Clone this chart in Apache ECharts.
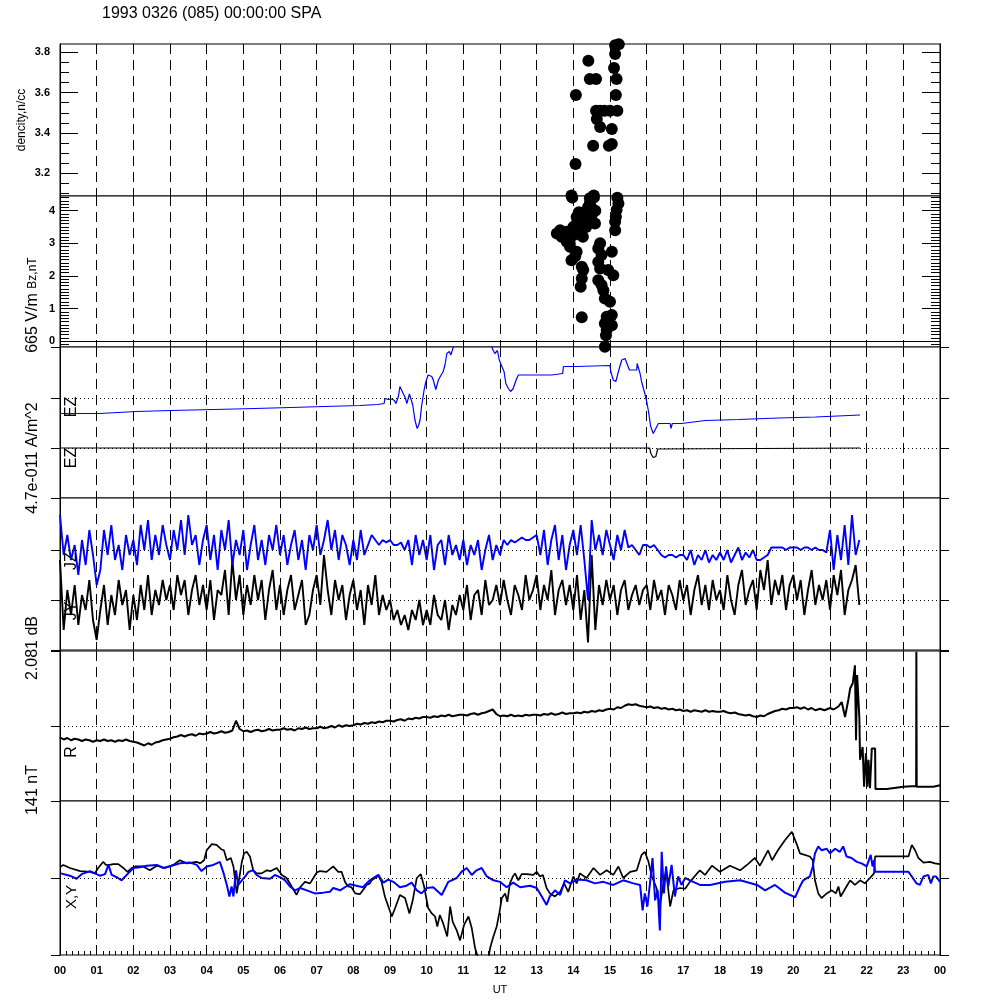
<!DOCTYPE html>
<html><head><meta charset="utf-8">
<script src="https://cdn.jsdelivr.net/npm/echarts@6/dist/echarts.min.js"></script>
<style>html,body{margin:0;padding:0;background:#fff}#c{width:1000px;height:1000px}</style>
</head><body><div id="c"></div>
<script>
// ---------------- data ----------------
const hourLabels = ['00','01','02','03','04','05','06','07','08','09','10','11','12','13','14','15','16','17','18','19','20','21','22','23','00'];
const densityTicks = [3.2,3.4,3.6,3.8];
const densityMinorTicks = [3.1,3.15,3.25,3.3,3.35,3.45,3.5,3.55,3.65,3.7,3.75];
const bzTicks = [0,1,2,3,4];
const ezTicks = [-1,0,1,2.02];
const jTicks = [-1,0,1,2.04];
const rTicks = [-1,0,1];
const xyTicks = [-1,0,1];

// density, n/cc  [UT hour, value]
const densityPts = [[13.95,3.09],[14.06,3.246],[14.07,3.588],[14.41,3.758],[14.45,3.668],[14.54,3.337],[14.56,3.09],[14.62,3.668],[14.62,3.51],[14.64,3.469],[14.73,3.43],[14.73,3.51],[14.85,3.51],[14.97,3.337],[15.0,3.51],[15.05,3.345],[15.05,3.42],[15.11,3.722],[15.14,3.792],[15.14,3.835],[15.16,3.588],[15.18,3.668],[15.2,3.51],[15.24,3.84]];

// Bz, nT  [UT hour, value]
const bzPts = [[15.23,4.22],[15.18,4.02],[15.16,3.81],[15.14,3.66],[15.14,3.40],[15.2,4.40],[14.45,4.38],[14.45,4.22],[14.5,4.07],[14.26,3.92],[14.5,3.87],[14.09,3.81],[14.36,3.71],[14.59,3.61],[14.09,3.61],[14.18,3.46],[13.64,3.40],[13.82,3.35],[13.68,3.20],[14.0,3.25],[14.26,3.20],[13.82,3.05],[13.91,2.89],[14.09,2.74],[13.95,2.48],[14.73,3.0],[14.68,2.84],[15.05,2.74],[14.77,2.64],[14.68,2.43],[14.73,2.23],[14.23,2.28],[14.27,2.18],[14.95,2.18],[15.09,2.02],[14.23,1.92],[14.68,1.87],[14.77,1.72],[14.82,1.56],[14.2,1.67],[14.86,1.31],[15.0,1.21],[14.23,0.73],[15.05,0.80],[14.91,0.75],[14.86,0.54],[15.05,0.49],[14.91,0.34],[14.89,0.18],[14.86,-0.17],[13.75,3.3],[13.86,3.15],[14.0,3.5],[14.3,3.8],[14.4,4.1],[14.15,3.95],[14.35,3.5],[14.6,4.0],[13.97,4.4],[14.56,4.4],[14.1,3.3],[13.9,3.0],[14.05,2.6],[13.55,3.3]];

// EZ (scaled, 665 V/m)  [UT hour, value]
const ezBlue = [[0,0.69],[1.08,0.69],[1.1,0.73],[2.08,0.73],[2.1,0.75],[3.02,0.75],[3.05,0.77],[4.2,0.77],[4.22,0.79],[5.3,0.79],[5.32,0.81],[6.3,0.81],[6.32,0.83],[7.2,0.83],[7.22,0.85],[8.18,0.85],[8.2,0.87],[8.66,0.87],[8.68,0.89],[8.84,0.89],[8.86,0.99],[8.95,0.97],[9.05,0.98],[9.12,0.95],[9.16,0.89],[9.23,1.03],[9.27,1.23],[9.32,1.25],[9.36,1.09],[9.42,1.0],[9.46,0.89],[9.53,1.08],[9.58,1.08],[9.62,0.86],[9.68,0.56],[9.74,0.39],[9.78,0.45],[9.82,0.56],[9.86,0.83],[9.93,1.16],[9.98,1.33],[10.04,1.46],[10.14,1.43],[10.18,1.36],[10.25,1.17],[10.32,1.36],[10.38,1.44],[10.45,1.53],[10.5,1.66],[10.55,1.89],[10.62,1.93],[10.66,1.86],[10.71,1.98],[10.76,2.1],[11.0,2.4],[11.4,2.5],[11.75,2.1],[11.8,1.97],[11.86,1.89],[11.93,1.95],[11.98,1.76],[12.05,1.63],[12.11,1.53],[12.16,1.29],[12.23,1.19],[12.29,1.13],[12.36,1.19],[12.44,1.36],[12.5,1.46],[13.41,1.46],[13.44,1.49],[13.71,1.49],[13.73,1.63],[14.1,1.63],[14.11,1.65],[15.0,1.65],[15.02,1.53],[15.09,1.36],[15.16,1.33],[15.23,1.53],[15.32,1.76],[15.41,1.79],[15.46,1.76],[15.53,1.56],[15.73,1.56],[15.74,1.69],[15.82,1.49],[15.86,1.33],[15.95,1.09],[16.0,0.93],[16.05,0.73],[16.11,0.43],[16.18,0.29],[16.25,0.39],[16.32,0.49],[16.64,0.49],[16.66,0.39],[16.7,0.49],[16.95,0.49],[17.0,0.53],[17.6,0.55],[17.62,0.57],[18.5,0.57],[18.52,0.6],[19.6,0.6],[19.62,0.62],[20.6,0.62],[20.62,0.65],[21.82,0.66]];
const ezBlack = [[0,0],[16.08,0],[16.12,-0.12],[16.18,-0.19],[16.25,-0.17],[16.3,-0.02],[16.32,0],[21.82,0]];

// JZ / JY (scaled), one value every 0.1 h from 00 UT
const jzBlue = [
1.7,0.9,1.3,0.8,1.1,0.5,1.2,0.7,1.4,0.9,
0.3,0.6,1.4,0.9,1.5,0.8,1.1,0.6,1.3,0.9,
1.2,0.7,1.5,1.0,1.6,0.8,1.3,0.9,1.5,1.1,
0.8,1.4,1.0,1.6,0.9,1.7,1.1,1.3,0.7,1.2,
1.5,0.8,1.3,0.6,1.4,1.0,1.6,0.7,1.2,0.9,
1.4,0.6,1.1,1.5,0.8,1.2,0.7,1.3,1.0,1.5,
0.9,1.3,0.7,1.1,1.4,0.8,1.2,0.6,1.3,1.0,
1.5,0.9,1.2,1.6,1.0,1.4,0.8,1.3,1.1,0.7,
1.2,0.8,1.4,0.9,1.1,1.3,1.2,1.1,1.2,1.15,
1.2,1.1,1.1,1.15,1.0,1.2,0.7,1.3,0.9,1.2,
0.8,1.3,0.6,1.1,1.2,0.7,1.3,0.9,1.1,0.8,
1.2,0.7,1.1,0.9,1.2,0.6,1.0,1.3,0.8,1.1,
0.9,1.2,1.1,1.2,1.15,1.2,1.25,1.2,1.2,1.25,
1.3,0.9,1.4,0.7,1.2,1.5,0.8,1.3,0.6,1.1,
1.4,0.9,1.5,0.8,0.0,1.6,1.0,1.3,0.9,1.4,
1.1,0.8,1.3,1.0,1.4,1.05,1.1,1.0,0.9,1.1,
1.1,1.05,1.1,1.0,0.9,0.85,0.9,0.9,0.85,0.9,
0.9,0.8,1.0,0.7,0.9,0.8,1.0,0.75,0.9,0.8,
0.95,0.8,1.0,0.75,0.9,1.05,0.8,0.95,0.85,1.0,
0.8,0.8,0.85,0.9,1.05,1.05,1.05,1.05,1.0,1.05,
1.05,1.05,1.0,1.05,1.05,1.0,1.05,1.0,1.0,0.95,
1.4,0.6,1.3,0.8,1.5,0.7,1.7,0.9,1.2];
const jyBlack = [
0.8,-0.6,0.2,-0.3,0.3,-0.5,0.1,-0.2,0.4,-0.4,
-0.8,-0.2,0.3,-0.5,0.1,-0.3,0.4,-0.1,0.2,-0.6,
0.1,-0.4,0.3,-0.2,0.5,-0.3,0.2,-0.1,0.4,0.0,
0.3,-0.2,0.5,0.1,0.4,-0.3,0.2,0.5,-0.1,0.3,
-0.2,0.4,-0.4,0.2,0.1,0.6,-0.3,0.8,0.0,0.5,
-0.3,0.3,-0.1,0.5,0.0,0.4,-0.4,0.2,0.6,-0.2,
0.3,-0.3,0.2,0.5,-0.2,0.1,0.4,-0.5,-0.3,0.2,
0.5,-0.1,0.9,0.2,-0.3,0.4,0.0,0.3,-0.4,0.1,
0.4,-0.2,0.2,-0.5,0.3,-0.1,0.5,-0.3,0.1,-0.2,
0.0,-0.4,-0.2,-0.5,-0.3,-0.6,-0.2,-0.4,0.0,-0.5,
-0.2,-0.5,0.1,-0.3,-0.4,0.0,-0.6,-0.1,-0.3,0.1,
-0.2,0.3,-0.4,0.1,0.2,-0.3,0.4,-0.1,0.0,0.3,
-0.1,0.4,0.0,-0.3,0.3,0.1,-0.2,0.5,0.0,0.2,
0.5,-0.2,0.3,0.0,0.6,-0.3,0.2,0.4,-0.1,0.3,
-0.2,0.5,-0.4,0.2,-0.85,0.9,-0.6,0.3,-0.1,0.4,
0.0,0.3,-0.3,0.2,0.4,-0.2,0.1,0.3,-0.1,0.2,
0.3,-0.2,0.4,0.0,0.2,-0.3,0.3,0.1,-0.2,0.4,
0.0,0.3,-0.3,0.2,0.5,-0.1,0.3,-0.2,0.4,0.0,
0.2,-0.2,0.5,0.0,-0.3,0.3,0.6,-0.1,0.2,0.4,
-0.2,0.6,0.2,0.8,-0.1,0.4,0.1,0.5,-0.2,0.3,
0.5,0.0,0.4,-0.3,0.2,0.6,-0.1,0.3,0.0,0.4,
-0.2,0.5,0.1,0.6,-0.3,0.2,0.4,0.7,-0.1];

// R (scaled, 141 nT), one value every 0.1 h from 00 UT up to 20.1 h
const rMain = [
-0.15,-0.18,-0.16,-0.19,-0.17,-0.18,-0.20,-0.18,-0.19,-0.21,
-0.19,-0.20,-0.18,-0.20,-0.19,-0.21,-0.19,-0.20,-0.18,-0.20,
-0.21,-0.22,-0.24,-0.26,-0.23,-0.25,-0.22,-0.21,-0.19,-0.18,
-0.17,-0.15,-0.14,-0.12,-0.14,-0.12,-0.11,-0.13,-0.10,-0.11,
-0.10,-0.08,-0.10,-0.09,-0.07,-0.09,-0.08,-0.06,0.07,-0.04,
-0.07,-0.06,-0.08,-0.06,-0.05,-0.07,-0.06,-0.04,-0.06,-0.05,
-0.05,-0.03,-0.05,-0.04,-0.06,-0.03,-0.04,-0.02,-0.04,-0.03,
-0.03,-0.01,-0.03,-0.02,0.00,-0.02,0.01,-0.01,0.01,0.00,
0.01,0.03,0.02,0.04,0.03,0.05,0.04,0.06,0.05,0.07,
0.07,0.06,0.08,0.09,0.07,0.10,0.09,0.11,0.10,0.12,
0.12,0.11,0.13,0.12,0.14,0.13,0.15,0.13,0.14,0.15,
0.15,0.14,0.16,0.17,0.15,0.17,0.18,0.20,0.22,0.16,
0.13,0.14,0.13,0.15,0.13,0.14,0.13,0.15,0.14,0.15,
0.15,0.14,0.16,0.15,0.17,0.15,0.16,0.18,0.16,0.17,
0.17,0.18,0.17,0.19,0.18,0.20,0.19,0.21,0.20,0.22,
0.23,0.22,0.25,0.24,0.27,0.29,0.28,0.29,0.27,0.26,
0.25,0.26,0.24,0.25,0.23,0.24,0.22,0.23,0.21,0.22,
0.20,0.21,0.19,0.21,0.20,0.19,0.21,0.19,0.20,0.19,
0.19,0.20,0.18,0.17,0.18,0.16,0.15,0.14,0.15,0.13,
0.12,0.14,0.13,0.16,0.18,0.20,0.21,0.23,0.22,0.24,
0.24,0.25];
const rTail = [[20.2,0.23],[20.3,0.25],[20.4,0.22],[20.5,0.24],[20.6,0.21],[20.73,0.23],[20.85,0.21],[21.0,0.24],[21.1,0.22],[21.23,0.26],[21.32,0.32],[21.41,0.12],[21.5,0.35],[21.55,0.50],[21.62,0.57],[21.68,0.81],[21.71,-0.19],[21.74,0.68],[21.8,0.12],[21.82,-0.45],[21.89,-0.28],[21.93,-0.81],[21.98,-0.36],[22.02,-0.81],[22.05,-0.45],[22.09,-0.83],[22.14,-0.30],[22.23,-0.30],[22.24,-0.84],[22.55,-0.84],[23.0,-0.81],[23.35,-0.80],[23.355,0.99],[23.365,-0.81],[23.82,-0.81],[24.0,-0.79]];

// X, Y (scaled)  [UT hour, value]
const xBlack = [[0.02,0.15],[0.09,0.17],[0.27,0.13],[0.55,0.09],[0.82,0.08],[0.95,0.06],[1.04,0.13],[1.18,0.21],[1.25,0.17],[1.36,0.17],[1.45,0.18],[1.59,0.18],[1.73,0.13],[1.84,0.08],[1.96,0.13],[2.05,0.15],[2.27,0.15],[2.45,0.10],[2.64,0.16],[2.86,0.13],[3.09,0.17],[3.27,0.23],[3.46,0.19],[3.73,0.21],[3.82,0.19],[3.93,0.23],[4.0,0.36],[4.14,0.44],[4.27,0.43],[4.41,0.37],[4.47,0.36],[4.55,0.23],[4.66,0.26],[4.73,0.15],[4.82,-0.20],[4.89,0.0],[4.96,0.21],[5.02,0.32],[5.09,0.34],[5.18,0.28],[5.27,0.10],[5.36,0.06],[5.5,0.06],[5.64,0.10],[5.75,0.09],[5.91,0.13],[6.05,0.04],[6.18,0.0],[6.32,-0.11],[6.45,-0.22],[6.55,-0.12],[6.68,-0.05],[6.82,-0.07],[6.91,0.0],[7.0,0.07],[7.09,0.09],[7.27,0.08],[7.45,0.15],[7.59,0.08],[7.68,0.08],[7.77,-0.05],[7.86,-0.11],[7.95,-0.12],[8.05,-0.20],[8.18,-0.21],[8.32,-0.12],[8.36,-0.09],[8.45,-0.07],[8.5,-0.03],[8.68,0.03],[8.77,-0.05],[8.86,-0.24],[9.05,-0.50],[9.14,-0.39],[9.27,-0.22],[9.41,-0.26],[9.53,-0.46],[9.62,-0.29],[9.73,0.0],[9.84,0.05],[9.93,-0.11],[10.04,-0.39],[10.14,-0.46],[10.23,-0.50],[10.29,-0.63],[10.36,-0.48],[10.45,-0.59],[10.56,-0.76],[10.64,-0.37],[10.71,-0.57],[10.82,-0.68],[10.91,-0.81],[11.02,-0.61],[11.14,-0.50],[11.23,-0.65],[11.32,-0.91],[11.41,-1.05],[11.54,-1.15],[11.68,-1.05],[11.73,-0.91],[11.82,-0.76],[11.91,-0.63],[11.98,-0.46],[12.05,-0.26],[12.14,-0.20],[12.2,-0.31],[12.27,-0.07],[12.35,0.02],[12.41,0.06],[12.5,-0.03],[12.59,0.05],[12.73,0.05],[12.91,0.04],[13.0,0.08],[13.09,0.02],[13.17,0.04],[13.27,-0.13],[13.36,-0.20],[13.5,-0.24],[13.64,-0.18],[13.75,-0.07],[13.86,-0.18],[14.0,0.02],[14.09,-0.07],[14.18,0.06],[14.36,0.0],[14.55,0.13],[14.73,0.04],[14.91,0.10],[15.09,0.04],[15.23,0.15],[15.36,0.0],[15.55,0.08],[15.73,0.10],[15.86,0.30],[15.95,0.34],[16.05,0.21],[16.14,0.02],[16.27,-0.13],[16.36,-0.37],[16.45,-0.09],[16.53,0.10],[16.64,-0.37],[16.73,-0.16],[16.91,-0.13],[17.05,-0.14],[17.18,-0.05],[17.45,0.10],[17.59,0.04],[17.78,0.16],[18.0,0.08],[18.27,0.16],[18.55,0.10],[18.76,0.18],[18.95,0.26],[19.09,0.16],[19.31,0.36],[19.42,0.23],[19.58,0.36],[19.77,0.49],[19.96,0.60],[20.1,0.43],[20.18,0.32],[20.45,0.28],[20.53,0.23],[20.59,-0.03],[20.68,-0.20],[20.77,-0.26],[20.91,-0.20],[21.05,-0.16],[21.16,-0.20],[21.23,-0.11],[21.29,-0.24],[21.45,-0.11],[21.55,-0.03],[21.68,-0.09],[21.82,-0.03],[21.95,-0.07],[22.09,0.0],[22.2,0.06],[22.23,0.28],[23.14,0.28],[23.23,0.43],[23.32,0.36],[23.41,0.26],[23.55,0.20],[23.73,0.21],[23.86,0.19],[24.0,0.18]];
const yBlue = [[0.02,0.06],[0.27,0.03],[0.45,-0.01],[0.59,0.05],[0.82,0.09],[0.95,0.06],[1.09,0.03],[1.23,0.05],[1.32,0.17],[1.41,0.04],[1.55,0.01],[1.68,-0.03],[1.82,0.04],[2.0,0.13],[2.18,0.14],[2.36,0.16],[2.64,0.17],[2.82,0.13],[3.05,0.16],[3.27,0.19],[3.55,0.20],[3.73,0.17],[3.86,0.09],[4.0,0.15],[4.18,0.17],[4.36,0.21],[4.45,0.08],[4.55,-0.09],[4.62,-0.24],[4.68,-0.11],[4.73,-0.24],[4.8,0.10],[4.86,-0.09],[4.96,-0.03],[5.05,0.02],[5.14,0.08],[5.27,0.10],[5.36,0.04],[5.5,0.0],[5.73,-0.01],[5.86,0.04],[6.0,0.01],[6.14,-0.03],[6.27,-0.11],[6.41,-0.16],[6.55,-0.13],[6.73,-0.16],[6.95,-0.20],[7.18,-0.19],[7.36,-0.18],[7.45,-0.13],[7.64,-0.16],[7.77,-0.12],[7.91,-0.08],[8.09,-0.10],[8.26,-0.12],[8.45,-0.03],[8.68,0.04],[8.82,-0.06],[8.95,-0.02],[9.09,-0.05],[9.27,-0.12],[9.45,-0.10],[9.59,-0.06],[9.73,-0.16],[9.86,-0.20],[10.0,-0.13],[10.18,-0.12],[10.41,-0.22],[10.59,-0.05],[10.82,0.0],[10.95,0.08],[11.09,0.13],[11.23,0.04],[11.36,0.10],[11.5,0.13],[11.64,0.02],[11.82,-0.03],[12.0,-0.05],[12.18,-0.12],[12.36,-0.06],[12.55,-0.12],[12.82,-0.10],[13.0,-0.13],[13.14,-0.24],[13.27,-0.35],[13.36,-0.24],[13.5,-0.16],[13.64,-0.22],[13.77,-0.03],[13.91,-0.07],[14.09,-0.02],[14.36,-0.03],[14.59,-0.07],[14.82,-0.05],[15.09,-0.09],[15.36,-0.03],[15.64,-0.07],[15.82,-0.09],[15.89,-0.42],[15.95,-0.20],[16.02,-0.37],[16.09,-0.07],[16.16,0.26],[16.23,-0.29],[16.3,-0.16],[16.36,-0.68],[16.41,0.34],[16.47,-0.20],[16.53,0.15],[16.59,-0.11],[16.68,0.17],[16.77,-0.24],[16.86,0.02],[16.95,-0.09],[17.05,0.0],[17.18,-0.03],[17.45,-0.09],[17.73,-0.09],[18.14,-0.05],[18.55,-0.03],[19.01,-0.09],[19.23,-0.16],[19.5,-0.09],[19.77,-0.19],[20.05,-0.25],[20.18,-0.11],[20.27,-0.03],[20.45,0.02],[20.53,0.15],[20.59,0.32],[20.68,0.41],[20.77,0.36],[20.91,0.38],[21.0,0.32],[21.14,0.38],[21.27,0.34],[21.36,0.41],[21.45,0.28],[21.59,0.26],[21.73,0.21],[21.86,0.19],[22.0,0.15],[22.11,0.30],[22.16,0.15],[22.2,0.23],[22.23,0.08],[23.14,0.08],[23.23,0.02],[23.36,-0.07],[23.45,-0.09],[23.55,0.02],[23.68,0.04],[23.75,-0.07],[23.82,0.02],[23.89,0.02],[24.0,-0.05]];

// ---------------- layout ----------------
const FF = '"Liberation Sans", Arial, Helvetica, sans-serif';
const panels = [
  {top:44, height:152, min:3.0875, max:3.841},
  {top:196, height:151, min:-0.18, max:4.45},
  {top:347, height:151, min:-1, max:2.02},
  {top:498, height:152, min:-1, max:2.04},
  {top:651, height:150, min:-1, max:1},
  {top:801, height:154, min:-1, max:1}
];
const grids = panels.map(p => ({left:60, width:880, top:p.top, height:p.height, show:true, borderColor:'#000', borderWidth:1, backgroundColor:'#fff', containLabel:false, outerBoundsMode:'none'}));
const xAxes = panels.map((p, i) => ({
  type:'value', gridIndex:i, min:0, max:24, interval:1,
  axisLine:{show:false, onZero:false},
  axisTick:{show:i===5, inside:true, length:5, lineStyle:{color:'#000'}},
  minorTick:{show:i===5, splitNumber:6, length:4, lineStyle:{color:'#000'}},
  axisLabel:{show:i===5, formatter:v => hourLabels[Math.round(v)], color:'#000', fontSize:11, fontWeight:'bold', fontFamily:FF, margin:10},
  splitLine:{show:true, lineStyle:{color:'#000', width:1, type:[10,6]}},
  minorSplitLine:{show:false}
}));
const yAxes = [];
function addY(g, pos, ticks, len, inside, labels, margin) {
  const p = panels[g];
  yAxes.push({
    type:'value', gridIndex:g, min:p.min, max:p.max, position:pos,
    axisLine:{show:true, onZero:false, lineStyle:{color:'#000', width:1}},
    axisTick:{show:true, inside:inside, length:len, customValues:ticks, lineStyle:{color:'#000', width:1}},
    axisLabel:labels ? {show:true, customValues:labels, margin:margin, color:'#000', fontSize:11, fontWeight:'bold', fontFamily:FF} : {show:false},
    splitLine:{show:false}
  });
  return yAxes.length - 1;
}
const yMain = [];
yMain[0] = addY(0, 'left', densityTicks, 18, true, densityTicks, 10);
addY(0, 'left', densityMinorTicks, 9, true, null);
addY(0, 'right', densityTicks, 18, true, null);
addY(0, 'right', densityMinorTicks, 9, true, null);
const bzMinor = [];
for (let k = -1; k <= 44; k++) { if (k % 10 !== 0) bzMinor.push(k / 10); }
yMain[1] = addY(1, 'left', bzTicks, 18, true, bzTicks, 5);
addY(1, 'left', bzMinor, 9, true, null);
addY(1, 'right', bzTicks, 18, true, null);
addY(1, 'right', bzMinor, 9, true, null);
yMain[2] = addY(2, 'left', ezTicks, 9, false, null); addY(2, 'right', ezTicks, 9, false, null);
yMain[3] = addY(3, 'left', jTicks, 9, false, null); addY(3, 'right', jTicks, 9, false, null);
yMain[4] = addY(4, 'left', rTicks, 9, false, null); addY(4, 'right', rTicks, 9, false, null);
yMain[5] = addY(5, 'left', xyTicks, 9, false, null); addY(5, 'right', xyTicks, 9, false, null);

function refLines(vals, type) {
  return {silent:true, symbol:['none','none'], label:{show:false}, animation:false,
    lineStyle:{color:'#000', width:1, type:type || [1,3]}, data:vals.map(v => ({yAxis:v}))};
}
function lineS(g, data, color, width, ml) {
  const s = {type:'line', xAxisIndex:g, yAxisIndex:yMain[g], data:data, showSymbol:false, symbol:'none',
    lineStyle:{color:color, width:width}, itemStyle:{color:color}, clip:true, animation:false};
  if (ml) s.markLine = ml;
  return s;
}
const step01 = arr => arr.map((v, i) => [i / 10, v]);

const series = [
  {type:'scatter', xAxisIndex:0, yAxisIndex:yMain[0], data:densityPts, symbolSize:12, itemStyle:{color:'#000', opacity:1}, animation:false},
  {type:'scatter', xAxisIndex:1, yAxisIndex:yMain[1], data:bzPts, symbolSize:12, itemStyle:{color:'#000', opacity:1}, animation:false, markLine:refLines([0], 'solid')},
  lineS(2, ezBlack, '#000', 1.2, refLines([0, 1])),
  lineS(2, ezBlue, '#0000ff', 1.2),
  lineS(3, step01(jyBlack), '#000', 1.9, refLines([0, 1])),
  lineS(3, step01(jzBlue), '#0000ff', 1.9),
  lineS(4, step01(rMain).concat(rTail), '#000', 2, refLines([0])),
  lineS(5, xBlack, '#000', 1.7, refLines([0])),
  lineS(5, yBlue, '#0000ff', 2)
];

function vtext(x, y, text, size) {
  return {type:'text', x:x, y:y, rotation:Math.PI / 2, z:10,
    style:{text:text, fontSize:size, fontFamily:FF, fill:'#000', align:'center', verticalAlign:'middle', textAlign:'center', textVerticalAlign:'middle'}};
}
const graphics = [
  {type:'text', x:102, y:14, style:{text:'1993 0326 (085) 00:00:00 SPA', fontSize:16, fontFamily:FF, fill:'#000', align:'left', verticalAlign:'middle', textAlign:'left', textVerticalAlign:'middle'}},
  vtext(22, 120, 'dencity,n/cc', 12),
  vtext(33, 273, 'Bz,nT', 12),
  vtext(33, 323, '665 V/m', 16),
  vtext(33, 458, '4.7e-011 A/m^2', 16),
  vtext(33, 648, '2.081 dB', 16),
  vtext(33, 790, '141 nT', 16),
  vtext(72, 407, 'EZ', 16),
  vtext(72, 458, 'EZ', 16),
  vtext(72, 561, 'JZ', 16),
  vtext(72, 611, 'JY', 16),
  vtext(72, 752, 'R', 16),
  vtext(72, 897, 'X,Y', 15),
  {type:'text', x:500, y:990, style:{text:'UT', fontSize:11, fontFamily:FF, fill:'#000', align:'center', verticalAlign:'middle', textAlign:'center', textVerticalAlign:'middle'}}
];

const chart = echarts.init(document.getElementById('c'), null, {renderer:'canvas'});
chart.setOption({
  backgroundColor:'#fff', animation:false,
  grid:grids, xAxis:xAxes, yAxis:yAxes, series:series, graphic:graphics
});
</script></body></html>
